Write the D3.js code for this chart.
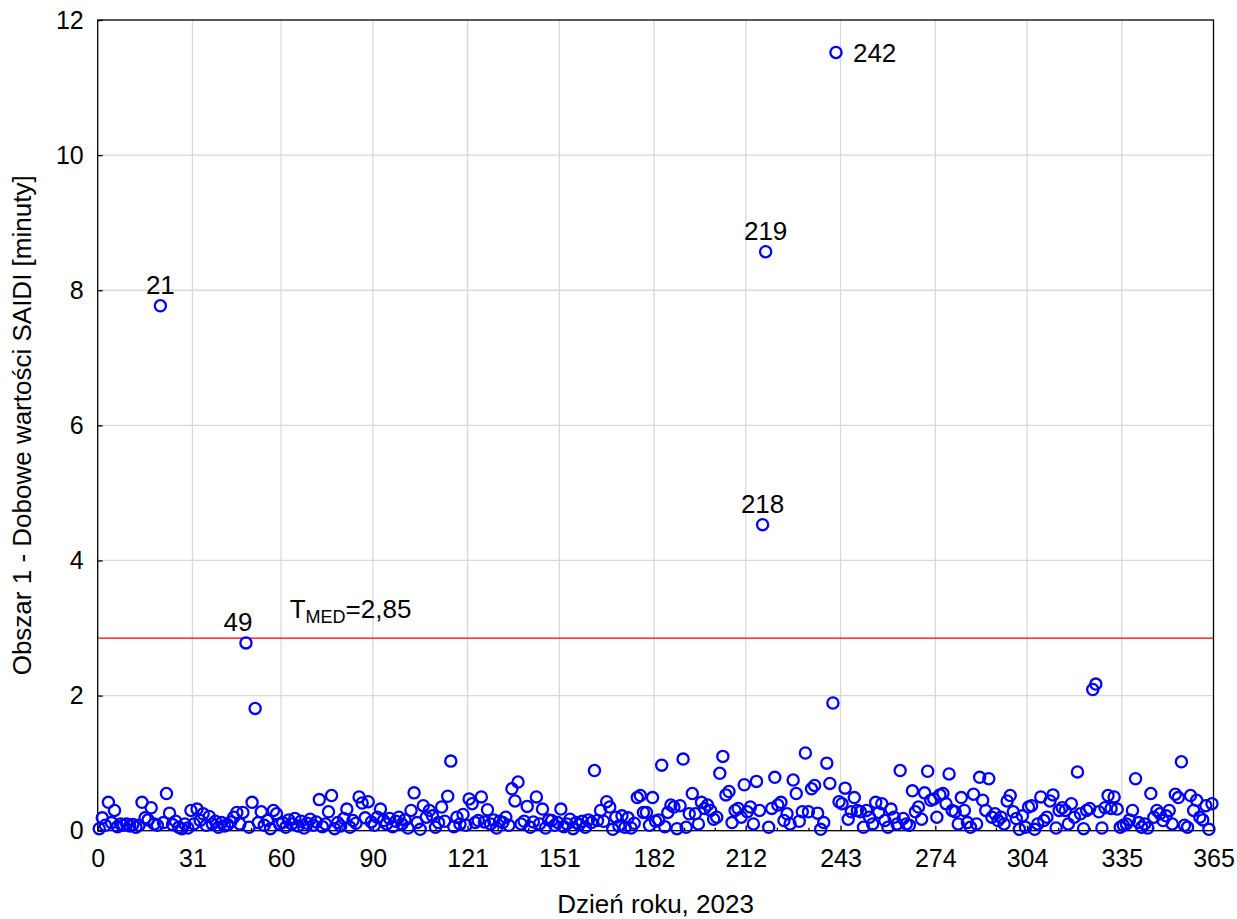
<!DOCTYPE html>
<html>
<head>
<meta charset="utf-8">
<script src="https://cdn.jsdelivr.net/npm/d3@7"></script>
<style>
  body { margin: 0; background: #fff; }
  svg { display: block; }
  text { font-family: Arial, "Liberation Sans", sans-serif; fill: #000; }
</style>
</head>
<body>
<svg id="chart" width="1237" height="919"></svg>
<script>
// Daily SAIDI values for Area 1, day 1 .. 365 of 2023 (minutes)
const dailySaidi = [
  0.03, 0.19, 0.08, 0.42, 0.12, 0.30, 0.06, 0.10, 0.08, 0.10,
  0.07, 0.09, 0.05, 0.08, 0.42, 0.19, 0.16, 0.34, 0.10, 0.08,
  7.77, 0.12, 0.55, 0.26, 0.09, 0.14, 0.05, 0.03, 0.10, 0.04,
  0.30, 0.10, 0.32, 0.15, 0.25, 0.08, 0.21, 0.10, 0.14, 0.05,
  0.12, 0.07, 0.09, 0.13, 0.20, 0.27, 0.10, 0.27, 2.78, 0.05,
  0.42, 1.81, 0.12, 0.28, 0.08, 0.15, 0.03, 0.30, 0.25, 0.10,
  0.12, 0.05, 0.16, 0.10, 0.18, 0.07, 0.14, 0.04, 0.11, 0.17,
  0.08, 0.13, 0.46, 0.06, 0.10, 0.28, 0.52, 0.03, 0.12, 0.07,
  0.18, 0.32, 0.05, 0.15, 0.11, 0.50, 0.41, 0.19, 0.43, 0.13,
  0.08, 0.20, 0.32, 0.15, 0.10, 0.18, 0.06, 0.14, 0.20, 0.10,
  0.16, 0.04, 0.30, 0.56, 0.12, 0.02, 0.37, 0.20, 0.30, 0.22,
  0.05, 0.12, 0.35, 0.14, 0.51, 1.03, 0.06, 0.20, 0.10, 0.24,
  0.08, 0.47, 0.40, 0.12, 0.15, 0.50, 0.13, 0.31, 0.10, 0.16,
  0.04, 0.14, 0.12, 0.20, 0.08, 0.62, 0.44, 0.72, 0.10, 0.14,
  0.36, 0.05, 0.13, 0.50, 0.10, 0.32, 0.04, 0.16, 0.15, 0.08,
  0.12, 0.32, 0.06, 0.10, 0.17, 0.03, 0.12, 0.09, 0.14, 0.05,
  0.16, 0.12, 0.89, 0.15, 0.30, 0.14, 0.43, 0.35, 0.02, 0.20,
  0.07, 0.22, 0.05, 0.19, 0.04, 0.11, 0.49, 0.52, 0.27, 0.27,
  0.08, 0.49, 0.14, 0.16, 0.97, 0.06, 0.27, 0.38, 0.35, 0.03,
  0.37, 1.06, 0.05, 0.25, 0.55, 0.25, 0.10, 0.42, 0.33, 0.38,
  0.30, 0.17, 0.20, 0.85, 1.10, 0.53, 0.58, 0.12, 0.30, 0.33,
  0.20, 0.68, 0.28, 0.35, 0.10, 0.73, 0.30, 4.53, 8.57, 0.05,
  0.33, 0.79, 0.38, 0.42, 0.15, 0.25, 0.10, 0.75, 0.55, 0.14,
  0.28, 1.15, 0.28, 0.62, 0.67, 0.26, 0.02, 0.12, 1.00, 0.70,
  1.89, 11.52, 0.43, 0.40, 0.63, 0.17, 0.28, 0.49, 0.30, 0.28,
  0.05, 0.30, 0.20, 0.10, 0.42, 0.27, 0.40, 0.15, 0.05, 0.32,
  0.20, 0.10, 0.89, 0.18, 0.10, 0.08, 0.59, 0.28, 0.35, 0.17,
  0.56, 0.88, 0.45, 0.47, 0.20, 0.53, 0.55, 0.40, 0.84, 0.30,
  0.28, 0.10, 0.49, 0.30, 0.12, 0.05, 0.54, 0.10, 0.79, 0.45,
  0.30, 0.77, 0.20, 0.25, 0.15, 0.20, 0.10, 0.44, 0.52, 0.28,
  0.18, 0.02, 0.22, 0.05, 0.35, 0.37, 0.02, 0.10, 0.50, 0.15,
  0.20, 0.44, 0.53, 0.04, 0.30, 0.34, 0.30, 0.10, 0.40, 0.20,
  0.87, 0.25, 0.03, 0.30, 0.33, 2.09, 2.17, 0.28, 0.04, 0.34,
  0.52, 0.33, 0.50, 0.32, 0.05, 0.08, 0.10, 0.16, 0.30, 0.77,
  0.12, 0.05, 0.10, 0.04, 0.55, 0.20, 0.30, 0.25, 0.15, 0.22,
  0.30, 0.10, 0.54, 0.49, 1.02, 0.08, 0.05, 0.52, 0.30, 0.45,
  0.20, 0.16, 0.37, 0.02, 0.40
];

// Axis ticks (month boundaries on the day axis)
const xTickValues = [0, 31, 60, 90, 121, 151, 182, 212, 243, 274, 304, 335, 365];
const yTickValues = [0, 2, 4, 6, 8, 10, 12];

// Median-based threshold T_MED
const tMed = 2.85;

// Days whose points carry their day number
const labelledDays = [21, 49, 218, 219, 242];

const points = dailySaidi.map((v, i) => ({ day: i + 1, value: v }));

const plot = { left: 97.7, right: 1213.5, top: 20, bottom: 830.7 };

const x = d3.scaleLinear().domain([0, 365]).range([plot.left, plot.right]);
const y = d3.scaleLinear().domain([0, 12]).range([plot.bottom, plot.top]);

const svg = d3.select("#chart");
const fontFamily = "Arial, 'Liberation Sans', sans-serif";
const tickFont = 25, labelFont = 26, titleFont = 26;

// Grid
const grid = svg.append("g").attr("stroke", "#d9d9d9").attr("stroke-width", 1.3);
grid.selectAll("line.gx")
  .data(xTickValues.slice(1, -1))
  .join("line")
  .attr("x1", d => x(d)).attr("x2", d => x(d))
  .attr("y1", plot.top).attr("y2", plot.bottom);
grid.selectAll("line.gy")
  .data(yTickValues.slice(1, -1))
  .join("line")
  .attr("x1", plot.left).attr("x2", plot.right)
  .attr("y1", d => y(d)).attr("y2", d => y(d));

// Minor ticks: two between each pair of month ticks
const xMinor = [];
for (let i = 0; i < xTickValues.length - 1; i++) {
  const a = xTickValues[i], b = xTickValues[i + 1];
  xMinor.push(a + (b - a) / 3, a + 2 * (b - a) / 3);
}

// Bottom axis (ticks pointing inward)
const xAxis = d3.axisBottom(x).tickValues(xTickValues).tickFormat(d3.format("d"))
  .tickSizeInner(-5).tickSizeOuter(0).tickPadding(19);
const gx = svg.append("g").attr("transform", `translate(0,${plot.bottom})`).call(xAxis);
gx.selectAll("text").attr("font-size", tickFont).attr("font-family", fontFamily);
gx.select(".domain").remove();
gx.selectAll("line").attr("stroke", "#000").attr("stroke-width", 1.3);
svg.append("g").selectAll("line")
  .data(xMinor).join("line")
  .attr("x1", d => x(d)).attr("x2", d => x(d))
  .attr("y1", plot.bottom).attr("y2", plot.bottom - 3)
  .attr("stroke", "#000").attr("stroke-width", 1.3);

// Left axis
const yAxis = d3.axisLeft(y).tickValues(yTickValues).tickFormat(d3.format("d"))
  .tickSizeInner(-5).tickSizeOuter(0).tickPadding(14);
const gy = svg.append("g").attr("transform", `translate(${plot.left},0)`).call(yAxis);
gy.selectAll("text").attr("font-size", tickFont).attr("font-family", fontFamily);
gy.select(".domain").remove();
gy.selectAll("line").attr("stroke", "#000").attr("stroke-width", 1.3);

// Threshold line
svg.append("line")
  .attr("x1", plot.left).attr("x2", plot.right)
  .attr("y1", y(tMed)).attr("y2", y(tMed))
  .attr("stroke", "#ff0000").attr("stroke-width", 1.3);

// Frame
svg.append("rect")
  .attr("x", plot.left).attr("y", plot.top)
  .attr("width", plot.right - plot.left).attr("height", plot.bottom - plot.top)
  .attr("fill", "none").attr("stroke", "#000").attr("stroke-width", 1.3);

// Points (each day drawn at the middle of its interval)
svg.append("g").selectAll("circle")
  .data(points).join("circle")
  .attr("cx", d => x(d.day - 0.5))
  .attr("cy", d => y(d.value))
  .attr("r", 5.6)
  .attr("fill", "none")
  .attr("stroke", "#0000ff")
  .attr("stroke-width", 2.3);

// Day labels next to outstanding points
const labelShift = { 49: -8 };
const labelRight = new Set([242]);
svg.append("g").selectAll("text")
  .data(points.filter(p => labelledDays.includes(p.day))).join("text")
  .attr("font-size", labelFont)
  .attr("x", d => labelRight.has(d.day) ? x(d.day - 0.5) + 17 : x(d.day - 0.5) + (labelShift[d.day] || 0))
  .attr("y", d => labelRight.has(d.day) ? y(d.value) : y(d.value) - 12)
  .attr("dy", d => labelRight.has(d.day) ? "0.36em" : 0)
  .attr("text-anchor", d => labelRight.has(d.day) ? "start" : "middle")
  .text(d => d.day);

// Threshold label: T_MED=2,85
const tLabel = svg.append("text")
  .attr("x", x(62.8)).attr("y", y(tMed) - 20)
  .attr("font-size", labelFont);
tLabel.append("tspan").text("T");
tLabel.append("tspan").attr("font-size", 18).attr("dy", 5).text("MED");
tLabel.append("tspan").attr("dy", -5).text("=" + d3.format(".2f")(tMed).replace(".", ","));

// Axis titles
svg.append("text")
  .attr("x", (plot.left + plot.right) / 2).attr("y", 913)
  .attr("text-anchor", "middle").attr("font-size", titleFont)
  .text("Dzień roku, 2023");

svg.append("text")
  .attr("transform", `translate(31,${(plot.top + plot.bottom) / 2}) rotate(-90)`)
  .attr("text-anchor", "middle").attr("font-size", titleFont)
  .text("Obszar 1 - Dobowe wartości SAIDI [minuty]");
</script>
</body>
</html>
